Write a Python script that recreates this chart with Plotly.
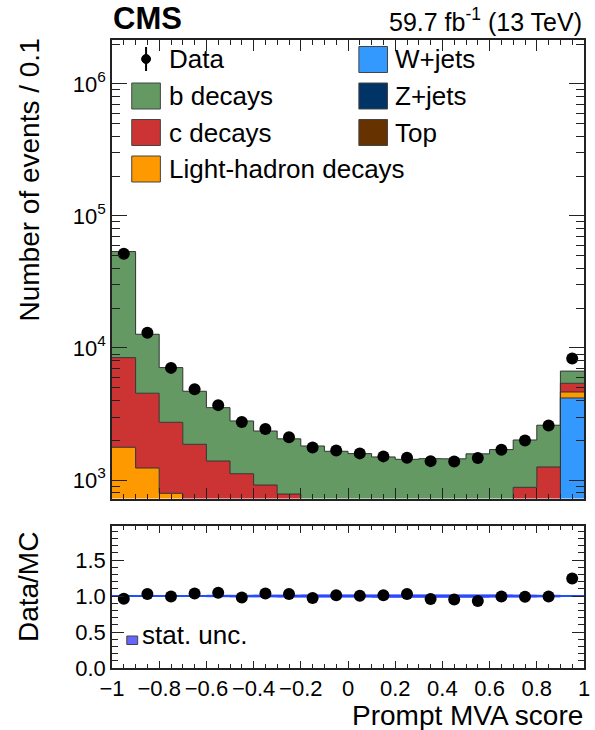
import numpy as np
import plotly.graph_objects as go

# ---------------- data ----------------
bin_edges = [-1.0, -0.9, -0.8, -0.7, -0.6, -0.5, -0.4, -0.3, -0.2, -0.1, 0.0,
             0.1, 0.2, 0.3, 0.4, 0.5, 0.6, 0.7, 0.8, 0.9, 1.0]

top_quark = [5, 3, 2, 2, 2, 2, 2, 2, 2, 2, 2, 2, 2, 2, 2, 2, 3, 4, 6, 30]
z_jets = [10, 6, 4, 3, 3, 3, 3, 3, 3, 3, 3, 3, 3, 3, 3, 3, 4, 6, 10, 60]
w_jets = [60, 30, 20, 15, 12, 10, 10, 10, 10, 10, 10, 10, 10, 10, 12, 14, 18, 25, 40, 4090]
light_decays = [1695, 1194, 767, 520, 380, 300, 240, 200, 170, 150, 140, 130, 125, 125, 130, 140,
                160, 200, 280, 460]
c_decays = [6680, 3307, 1942, 1324, 996, 801, 661, 568, 480, 420, 380, 360, 350, 360, 380, 420,
            500, 645, 919, 760]
b_decays = [45250, 8160, 4365, 2836, 2137, 1684, 1434, 1267, 1145, 1065, 1050, 990, 945, 950, 920,
            999, 1015, 1130, 1345, 1280]
data_counts = [51700, 13060, 7065, 4870, 3690, 2745, 2435, 2107, 1760, 1671, 1591, 1510, 1475,
               1390, 1379, 1468, 1692, 1990, 2587, 8310]

x_tick_vals = [-1.0, -0.8, -0.6, -0.4, -0.2, 0.0, 0.2, 0.4, 0.6, 0.8, 1.0]
x_tick_text = ['\u22121', '\u22120.8', '\u22120.6', '\u22120.4', '\u22120.2', '0',
               '0.2', '0.4', '0.6', '0.8', '1']
y_tick_vals = [1e3, 1e4, 1e5, 1e6]
y_tick_text = ['10<sup>3</sup>', '10<sup>4</sup>', '10<sup>5</sup>', '10<sup>6</sup>']
ratio_tick_vals = [0.0, 0.5, 1.0, 1.5]
ratio_tick_text = ['0.0', '0.5', '1.0', '1.5']

# ---------------- styling ----------------
FONT = "Liberation Sans, Arial, Helvetica, sans-serif"
W, H = 595, 730
ML, MR, MT, MB = 112, 5, 40, 62
PW, PH = W - ML - MR, H - MT - MB
OUT = '#333333'

layers = [
    ("Top", top_quark, '#663300'),
    ("Z+jets", z_jets, '#003366'),
    ("W+jets", w_jets, '#3399ff'),
    ("Light-hadron decays", light_decays, '#ff9900'),
    ("c decays", c_decays, '#cc3333'),
    ("b decays", b_decays, '#659963'),
]

edges = np.array(bin_edges)
centers = 0.5 * (edges[:-1] + edges[1:])
data = np.array(data_counts, dtype=float)


def px(xp):
    return (xp - ML) / PW


def py(yp):
    return (H - MB - yp) / PH


fig = go.Figure()

# baseline for the stack (below visible range on log axis)
fig.add_trace(go.Scatter(x=edges, y=np.ones(len(edges)), mode='lines',
                         line=dict(width=0, shape='hv'), showlegend=False,
                         hoverinfo='skip', xaxis='x', yaxis='y'))
cum = np.zeros(len(centers))
for name, vals, col in layers:
    cum = cum + np.array(vals, dtype=float)
    fig.add_trace(go.Scatter(x=edges, y=np.append(cum, cum[-1]), mode='lines',
                             line=dict(color=OUT, width=1, shape='hv'),
                             fill='tonexty', fillcolor=col, name=name,
                             showlegend=False, xaxis='x', yaxis='y'))
mc_total = cum.copy()

fig.add_trace(go.Scatter(x=centers, y=data, mode='markers',
                         marker=dict(color='black', size=12),
                         error_y=dict(type='data', array=np.sqrt(data), color='black',
                                      thickness=1.5, width=0),
                         showlegend=False, xaxis='x', yaxis='y'))

# ---------------- ratio panel ----------------
ratio = data / mc_total
ratio_err = np.sqrt(data) / mc_total
unc = np.sqrt(mc_total) / mc_total
one = mc_total / mc_total
fig.add_trace(go.Scatter(x=edges, y=np.append(one - unc, (one - unc)[-1]), mode='lines',
                         line=dict(width=0, shape='hv'), showlegend=False,
                         hoverinfo='skip', xaxis='x2', yaxis='y2'))
fig.add_trace(go.Scatter(x=edges, y=np.append(one + unc, (one + unc)[-1]), mode='lines',
                         line=dict(width=0, shape='hv'), fill='tonexty', fillcolor='#6666ff',
                         showlegend=False, hoverinfo='skip', xaxis='x2', yaxis='y2'))
fig.add_trace(go.Scatter(x=edges, y=np.append(one, one[-1]), mode='lines',
                         line=dict(width=2, color='#1f4fff', shape='hv'),
                         showlegend=False, xaxis='x2', yaxis='y2'))
fig.add_trace(go.Scatter(x=centers, y=ratio, mode='markers',
                         marker=dict(color='black', size=12),
                         error_y=dict(type='data', array=ratio_err, color='black',
                                      thickness=1.5, width=0),
                         showlegend=False, xaxis='x2', yaxis='y2'))

main_bottom = py(498.5)
ratio_top = py(526)

minor_log = [k * 10 ** e for e in range(2, 7) for k in range(2, 10)
             if 10 ** 2.86 <= k * 10 ** e <= 10 ** 6.332]

axis_common = dict(showline=True, linecolor='#222222', linewidth=1.5, mirror='allticks',
                   ticks='inside', tickcolor='#222222', tickwidth=1, showgrid=False,
                   zeroline=False, tickfont=dict(family=FONT, size=22, color='black'))

fig.update_layout(
    width=W, height=H,
    margin=dict(l=ML, r=MR, t=MT, b=MB),
    paper_bgcolor='white', plot_bgcolor='white',
    font=dict(family=FONT, color='black'),
    showlegend=False,
    xaxis=dict(axis_common, domain=[0, 1], range=[-1, 1], anchor='y', matches='x2',
               tickvals=x_tick_vals, showticklabels=False, ticklen=11,
               minor=dict(dtick=0.05, tick0=-1, ticks='inside', ticklen=5,
                          tickcolor='#222222', tickwidth=1)),
    yaxis=dict(axis_common, domain=[main_bottom, 1], type='log', range=[2.86, 6.332],
               anchor='x', tickvals=y_tick_vals, ticktext=y_tick_text, ticklen=15,
               minor=dict(tickmode='array', tickvals=minor_log, ticks='inside', ticklen=8,
                          tickcolor='#222222', tickwidth=1)),
    xaxis2=dict(axis_common, domain=[0, 1], range=[-1, 1], anchor='y2',
                tickvals=x_tick_vals, ticktext=x_tick_text, ticklen=7,
                minor=dict(dtick=0.05, tick0=-1, ticks='inside', ticklen=4,
                           tickcolor='#222222', tickwidth=1)),
    yaxis2=dict(axis_common, domain=[0, ratio_top], range=[0, 1.974], anchor='x2',
                tickvals=ratio_tick_vals, ticktext=ratio_tick_text, ticklen=12,
                minor=dict(dtick=0.1, tick0=0, ticks='inside', ticklen=6,
                           tickcolor='#222222', tickwidth=1)),
)

annotations = []
shapes = []


def text(xp, yp, s, size, xanchor='left', yanchor='middle', angle=0, bold=False):
    annotations.append(dict(x=px(xp), y=py(yp), xref='paper', yref='paper', text=s,
                            showarrow=False, xanchor=xanchor, yanchor=yanchor,
                            textangle=angle,
                            font=dict(family=FONT, size=size, color='black',
                                      weight='bold' if bold else 'normal')))


def box(x0, y0, x1, y1, col):
    shapes.append(dict(type='rect', xref='paper', yref='paper', x0=px(x0), x1=px(x1),
                       y0=py(y1), y1=py(y0), fillcolor=col,
                       line=dict(color='#444444', width=1)))


# header
text(111, 38, 'CMS', 31, xanchor='left', yanchor='bottom', bold=True)
text(590, 38, '59.7 fb<sup>-1</sup> (13 TeV)', 25, xanchor='right', yanchor='bottom')

# axis titles
text(28, 37, 'Number of events / 0.1', 28, xanchor='center', yanchor='top', angle=-90)
text(27, 530, 'Data/MC', 28, xanchor='center', yanchor='top', angle=-90)
text(591, 715, 'Prompt MVA score', 28, xanchor='right', yanchor='middle')

# legend - left column
shapes.append(dict(type='line', xref='paper', yref='paper', x0=px(146.5), x1=px(146.5),
                   y0=py(71), y1=py(47), line=dict(color='black', width=2)))
shapes.append(dict(type='circle', xref='paper', yref='paper', x0=px(142), x1=px(151),
                   y0=py(63.5), y1=py(54.5), fillcolor='black', line=dict(color='black', width=1)))
text(168, 59, 'Data', 26)
legend_left = [("b decays", '#659963'), ("c decays", '#cc3333'),
               ("Light-hadron decays", '#ff9900')]
for i, (lab, col) in enumerate(legend_left):
    yc = 96 + 36.5 * i
    box(132, yc - 13, 161, yc + 13, col)
    text(168, yc, lab, 26)
legend_right = [("W+jets", '#3399ff'), ("Z+jets", '#003366'), ("Top", '#663300')]
for i, (lab, col) in enumerate(legend_right):
    yc = 59.5 + 36.5 * i
    box(362, yc - 13, 391, yc + 13, col)
    text(397, yc, lab, 26)

# ratio legend
box(127, 636, 138, 644.5, '#6666ff')
text(140, 635, 'stat. unc.', 26)

fig.update_layout(annotations=annotations, shapes=shapes)

fig.write_html("out.html")
